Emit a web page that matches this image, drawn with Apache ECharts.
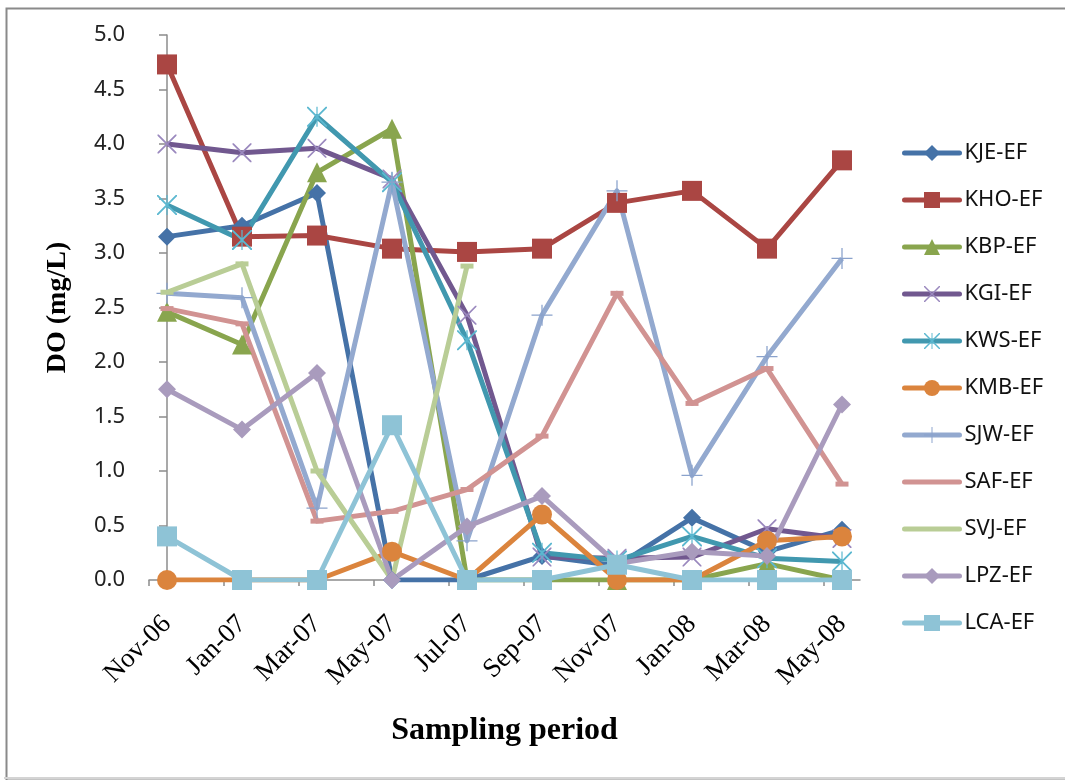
<!DOCTYPE html>
<html>
<head>
<meta charset="utf-8">
<script src="https://cdn.jsdelivr.net/npm/echarts@6/dist/echarts.min.js"></script>
<style>
  html, body { margin: 0; padding: 0; background: #fff; }
  #chart { width: 1065px; height: 780px; }
</style>
</head>
<body>
<div id="chart"></div>
<script>
// Sampling dates (x categories)
const categories = ['Nov-06', 'Jan-07', 'Mar-07', 'May-07', 'Jul-07', 'Sep-07', 'Nov-07', 'Jan-08', 'Mar-08', 'May-08'];

// Dissolved oxygen (mg/L) per site
const KJE = [3.15, 3.25, 3.55, 0.00, 0.00, 0.22, 0.13, 0.57, 0.26, 0.46];
const KHO = [4.73, 3.15, 3.16, 3.04, 3.01, 3.04, 3.46, 3.57, 3.04, 3.85];
const KBP = [2.46, 2.16, 3.74, 4.14, 0.00, 0.00, 0.00, 0.00, 0.15, 0.00];
const KGI = [4.00, 3.92, 3.96, 3.68, 2.43, 0.21, 0.20, 0.21, 0.47, 0.38];
const KWS = [3.44, 3.12, 4.25, 3.65, 2.20, 0.25, 0.18, 0.40, 0.20, 0.17];
const KMB = [0.00, 0.00, 0.00, 0.26, 0.00, 0.60, 0.00, 0.00, 0.36, 0.40];
const SJW = [2.63, 2.59, 0.66, 3.65, 0.36, 2.43, 3.57, 0.96, 2.05, 2.95];
const SAF = [2.49, 2.35, 0.54, 0.63, 0.83, 1.32, 2.63, 1.62, 1.94, 0.88];
const SVJ = [2.64, 2.90, 1.00, 0.00, 2.88, null, null, null, null, null];
const LPZ = [1.75, 1.38, 1.90, 0.00, 0.49, 0.77, 0.15, 0.26, 0.22, 1.61];
const LCA = [0.40, 0.00, 0.00, 1.42, 0.00, 0.00, 0.14, 0.00, 0.00, 0.00];

// Y axis tick range
const yMin = 0, yMax = 5, yStep = 0.5;

// Marker shapes drawn as thin filled outlines
const SYM_X = 'path://M0,0 L1.3,0 L10,8.7 L18.7,0 L20,0 L20,1.3 L11.3,10 L20,18.7 L20,20 L18.7,20 L10,11.3 L1.3,20 L0,20 L0,18.7 L8.7,10 L0,1.3 Z';
const SYM_STAR = SYM_X + ' M9.4,0 L10.6,0 L10.6,20 L9.4,20 Z';
const SYM_PLUS = 'path://M9.4,0 L10.6,0 L10.6,9.4 L20,9.4 L20,10.6 L10.6,10.6 L10.6,20 L9.4,20 L9.4,10.6 L0,10.6 L0,9.4 L9.4,9.4 Z';

const pad = 0.24; // half-gap between first/last category and axis ends

// Series drawn with a short dash marker; their legend keys show the line only
const dashSeries = ['SAF-EF', 'SVJ-EF'];

function mk(name, values, color, markerColor, symbol, size) {
  return {
    name: name,
    type: 'line',
    data: values.map((v, i) => [i, v]),
    symbol: symbol,
    symbolSize: size,
    showSymbol: true,
    connectNulls: false,
    color: color,
    lineStyle: { width: 5, color: color, join: 'round' },
    itemStyle: { color: markerColor, borderWidth: 0 },
    emphasis: { disabled: true },
    animation: false
  };
}

const series = [
  mk('KJE-EF', KJE, '#4572A7', '#4572A7', 'diamond', 18),
  mk('KHO-EF', KHO, '#AA4643', '#AA4643', 'rect', 20),
  mk('KBP-EF', KBP, '#89A54E', '#89A54E', 'triangle', 20),
  mk('KGI-EF', KGI, '#71588F', '#9A88BE', SYM_X, 19),
  mk('KWS-EF', KWS, '#4198AF', '#5BB8D0', SYM_STAR, 20),
  mk('KMB-EF', KMB, '#DB843D', '#DB843D', 'circle', 20),
  mk('SJW-EF', SJW, '#93A9CF', '#8AA2CC', SYM_PLUS, 21),
  mk('SAF-EF', SAF, '#D19392', '#D19392', 'rect', [13, 5]),
  mk('SVJ-EF', SVJ, '#B9CD96', '#B9CD96', 'rect', [13, 5]),
  mk('LPZ-EF', LPZ, '#A99BBD', '#A99BBD', 'diamond', 18),
  mk('LCA-EF', LCA, '#8EC3D6', '#8EC3D6', 'rect', 20)
];

const chart = echarts.init(document.getElementById('chart'), null, { renderer: 'canvas' });

chart.setOption({
  backgroundColor: '#ffffff',
  animation: false,
  grid: { left: 149, right: 205, top: 35, bottom: 200, containLabel: false },
  xAxis: {
    type: 'value',
    min: -pad,
    max: categories.length - 1 + pad,
    splitLine: { show: false },
    axisLine: { show: true, lineStyle: { color: '#8c8c8c', width: 1.5 } },
    axisTick: {
      show: true, inside: false, length: 6,
      lineStyle: { color: '#8c8c8c', width: 1.5 },
      customValues: categories.map((c, i) => i - pad)
    },
    axisLabel: {
      customValues: categories.map((c, i) => i),
      formatter: v => categories[Math.round(v)],
      rotate: 45,
      margin: 40,
      fontFamily: '"Liberation Serif", "Times New Roman", serif',
      fontSize: 27,
      color: '#000'
    },
    name: 'Sampling period',
    nameLocation: 'middle',
    nameGap: 135,
    nameTextStyle: {
      fontFamily: '"Liberation Serif", "Times New Roman", serif',
      fontWeight: 'bold',
      fontSize: 32,
      color: '#000'
    }
  },
  yAxis: {
    type: 'value',
    min: yMin,
    max: yMax,
    interval: yStep,
    splitLine: { show: false },
    axisLine: { show: true, lineStyle: { color: '#8c8c8c', width: 1.5 } },
    axisTick: { show: true, inside: false, length: 8, lineStyle: { color: '#8c8c8c', width: 1.5 } },
    axisLabel: {
      formatter: v => v.toFixed(1),
      margin: 24,
      fontFamily: '"Noto Sans", "Open Sans", sans-serif',
      fontSize: 22,
      color: '#222'
    },
    name: 'DO (mg/L)',
    nameLocation: 'middle',
    nameGap: 77,
    nameTextStyle: {
      fontFamily: '"Liberation Serif", "Times New Roman", serif',
      fontWeight: 'bold',
      fontSize: 28,
      color: '#000'
    }
  },
  legend: {
    orient: 'vertical',
    left: 897,
    top: 137,
    itemWidth: 55,
    itemHeight: 20,
    itemGap: 25,
    selectedMode: false,
    lineStyle: { width: 5, cap: 'round' },
    textStyle: {
      fontFamily: '"Noto Sans", "Open Sans", sans-serif',
      fontSize: 22,
      lineHeight: 22,
      color: '#111'
    },
    data: series.map(s => dashSeries.includes(s.name)
      ? { name: s.name, itemStyle: { opacity: 0 } }
      : { name: s.name })
  },
  graphic: [
    {
      type: 'rect',
      left: 4, top: 6,
      shape: { x: 0, y: 0, width: 1100, height: 772 },
      style: { fill: 'none', stroke: '#8a8a8a', lineWidth: 2 },
      silent: true, z: -10
    },
    {
      type: 'line',
      shape: { x1: 4, y1: 778, x2: 1065, y2: 778 },
      style: { stroke: '#d4d4d4', lineWidth: 2 },
      silent: true, z: -9
    }
  ],
  series: series
});
</script>
</body>
</html>
